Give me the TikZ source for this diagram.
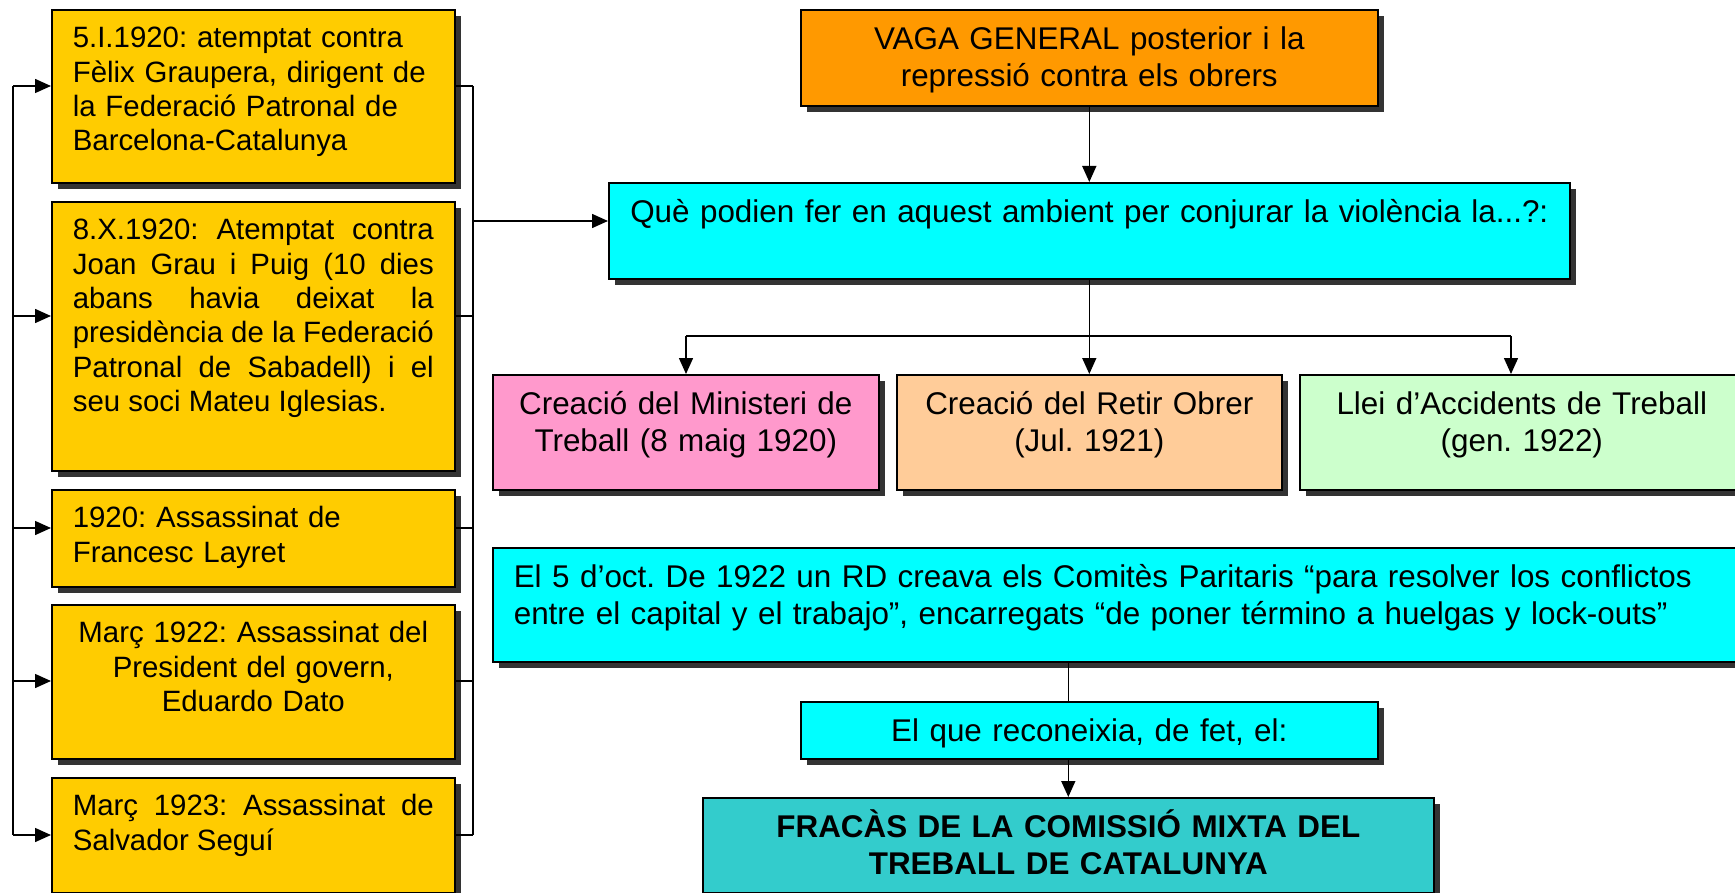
\documentclass[tikz,border=0pt]{standalone}
\usepackage{fontspec}
\setmainfont{Liberation Sans}
\usetikzlibrary{arrows.meta,shadows}
\hyphenpenalty=10000
\frenchspacing

\begin{document}
\begin{tikzpicture}[x=1pt,y=-1pt,
  caixa/.style={draw, line width=1.6pt, anchor=north west, inner xsep=21pt, inner ysep=0pt,
    drop shadow={shadow xshift=6pt,shadow yshift=-6pt,fill=ombra,opacity=1}},
  esquerra/.style={caixa, fill=groc, text width=361pt, text height=38pt,
    font=\fontsize{29.4}{34.4}\selectfont},
  dreta/.style={caixa, text height=40pt, align=center, font=\fontsize{31.4}{36.8}\selectfont},
  linia/.style={draw, line width=1.5pt},
  fletxa/.style={linia, -{Triangle[length=16pt,width=14pt]}}]
\definecolor{groc}{HTML}{FFCC00}
\definecolor{taronja}{HTML}{FF9900}
\definecolor{cian}{HTML}{00FFFF}
\definecolor{rosa}{HTML}{FF99CC}
\definecolor{preseg}{HTML}{FFCC99}
\definecolor{verdclar}{HTML}{CCFFCC}
\definecolor{turquesa}{HTML}{33CCCC}
\definecolor{ombra}{HTML}{333333}

\useasboundingbox (0,0) rectangle (1735,893);

\node[esquerra, text depth=135pt, align=left] (Y1) at (51,9)
  {5.I.1920: atemptat contra\\Fèlix Graupera, dirigent de\\la Federació Patronal de\\Barcelona-Catalunya};
\node[esquerra, text depth=231pt, align=justify] (Y2) at (51,201)
  {8.X.1920: Atemptat contra\linebreak Joan Grau i Puig (10 dies\linebreak abans havia deixat la\linebreak presidència de la Federació\linebreak Patronal de Sabadell) i el\linebreak seu soci Mateu Iglesias.};
\node[esquerra, text depth=59pt, align=left] (Y3) at (51,489)
  {1920: Assassinat de\\Francesc Layret};
\node[esquerra, text depth=116pt, align=center] (Y4) at (51,604)
  {Març 1922: Assassinat del\\President del govern,\\Eduardo Dato};
\node[esquerra, text depth=77pt, align=justify] (Y5) at (51,777)
  {Març 1923: Assassinat de\linebreak Salvador Seguí};

\node[dreta, fill=taronja, text width=535pt, text depth=56pt] (O) at (800,9)
  {VAGA GENERAL posterior i la\\repressió contra els obrers};
\node[dreta, fill=cian, inner xsep=10pt, text width=941pt, text depth=56pt] (C1) at (608,182)
  {Què podien fer en aquest ambient per conjurar la violència la...?:};
\node[dreta, fill=rosa, text width=344pt, text depth=75pt] (P) at (492,374)
  {Creació del Ministeri de\\Treball (8 maig 1920)};
\node[dreta, fill=preseg, text width=343pt, text depth=75pt] (R) at (896,374)
  {Creació del Retir Obrer\\(Jul. 1921)};
\node[dreta, fill=verdclar, text width=402pt, text depth=75pt] (G) at (1299,374)
  {Llei d’Accidents de Treball\\(gen. 1922)};
\node[dreta, fill=cian, text width=1228pt, text depth=74pt, align=left] (C2) at (492,547)
  {El 5 d’oct. De 1922 un RD creava els Comitès Paritaris “para resolver los conflictos\\entre el capital y el trabajo”, encarregats “de poner término a huelgas y lock-outs”};
\node[dreta, fill=cian, text width=535pt, text depth=17pt] (S) at (800,701)
  {El que reconeixia, de fet, el:};
\node[dreta, fill=turquesa, text width=689pt, text depth=55pt, font=\fontsize{31.4}{36.8}\selectfont\bfseries] (F) at (702,797)
  {FRACÀS DE LA COMISSIÓ MIXTA DEL\\TREBALL DE CATALUNYA};

\foreach \i/\yy in {1/86,2/316,3/528,4/681,5/835} {
  \coordinate (l\i) at (13,\yy);
  \coordinate (r\i) at (473,\yy);
  \path[fletxa] (l\i) -- (l\i -| Y\i.west);
  \path[linia] (Y\i.east |- r\i) -- (r\i);
}
\path[linia] (l1) -- (l5);
\path[linia] (r1) -- (r5);
\coordinate (r0) at (473,221);
\path[fletxa] (r0) -- (r0 -| C1.west);

\path[fletxa] (O.south) -- (C1.north);
\coordinate (bP) at (686,336);
\coordinate (bG) at (1511,336);
\path[fletxa] (C1.south) -- (R.north);
\path[linia] (bP) -- (bG);
\path[fletxa] (bP) -- (bP |- P.north);
\path[fletxa] (bG) -- (bG |- G.north);

\path[linia] (C2.south -| F.north) -- (S.north -| F.north);
\path[fletxa] (S.south -| F.north) -- (F.north);
\end{tikzpicture}
\end{document}
